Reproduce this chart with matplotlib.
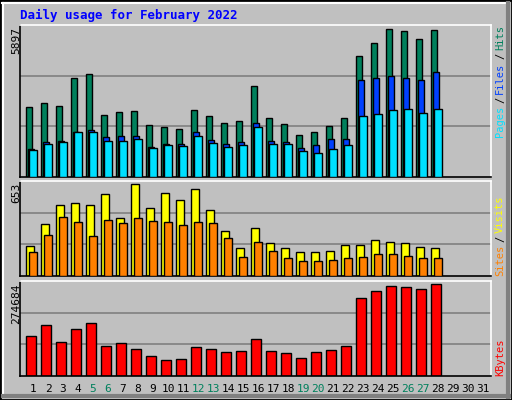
import matplotlib
matplotlib.use("Agg")
import matplotlib.pyplot as plt
from matplotlib.patches import Rectangle
import numpy as np

days = list(range(1, 32))
hits = [2775, 2935, 2815, 3935, 4095, 2455, 2575, 2615, 2054, 1974, 1894, 2655, 2415, 2134,
        2214, 3615, 2334, 2094, 1654, 1774, 2014, 2334, 4816, 5336, 5897, 5816, 5496, 5856]
files = [1094, 1374, 1414, 1774, 1854, 1574, 1614, 1614, 1174, 1294, 1294, 1774, 1454, 1294,
         1374, 2134, 1414, 1374, 1134, 1254, 1494, 1494, 3855, 3935, 4015, 3935, 3855, 4175]
pages = [1054, 1294, 1374, 1774, 1774, 1414, 1414, 1494, 1134, 1254, 1214, 1614, 1334, 1174,
         1254, 1974, 1294, 1294, 1014, 934, 1094, 1254, 2415, 2495, 2655, 2695, 2535, 2695]
visits = [213, 369, 504, 518, 504, 582, 412, 653, 483, 589, 539, 618, 468, 319,
          199, 341, 234, 199, 170, 170, 177, 220, 220, 256, 241, 234, 206, 199]
sites = [170, 291, 419, 383, 284, 397, 376, 412, 390, 383, 362, 383, 376, 270,
         135, 241, 177, 128, 106, 106, 114, 128, 135, 156, 156, 142, 128, 128]
kbytes = [118296, 151378, 100250, 139348, 157393, 88220, 97243, 79198, 58145, 46115, 49123,
          85213, 79198, 70175, 73183, 109273, 73183, 67168, 52130, 70175, 76190, 88220,
          232580, 253633, 268670, 265663, 259648, 274684]
weekends = [5, 6, 12, 13, 19, 20, 26, 27]
title = "Daily usage for February 2022"

W, H = 512, 400
fig = plt.figure(figsize=(5.12, 4.0), dpi=100)
fig.patch.set_facecolor("#C0C0C0")
mono = "DejaVu Sans Mono"

def fx(p): return p / W
def fy(p): return 1 - p / H

fig.add_artist(Rectangle((0, 0), 1, 1, transform=fig.transFigure, fill=False, ec="black", lw=2))
fig.add_artist(plt.Line2D([fx(2), fx(509)], [fy(3), fy(3)], color="white", lw=1.5, transform=fig.transFigure))
fig.add_artist(plt.Line2D([fx(3), fx(3)], [fy(3), fy(396)], color="white", lw=1.5, transform=fig.transFigure))
fig.add_artist(plt.Line2D([fx(508), fx(508)], [fy(3), fy(397)], color="#808080", lw=3, transform=fig.transFigure))
fig.add_artist(plt.Line2D([fx(3), fx(509)], [fy(396), fy(396)], color="#808080", lw=3, transform=fig.transFigure))

x0, x1 = 20, 491
xl = ((x0 - 33) / 15 + 1, (x1 - 33) / 15 + 1)

def mkax(top, bot, ymax):
    ax = fig.add_axes([fx(x0), fy(bot), fx(x1) - fx(x0), (bot - top) / H])
    ax.set_facecolor("#C0C0C0")
    ax.set_xlim(*xl)
    ax.set_ylim(0, ymax)
    ax.set_xticks([]); ax.set_yticks([])
    for s in ("left", "bottom"):
        ax.spines[s].set_color("black")
    for s in ("top", "right"):
        ax.spines[s].set_color("white")
    for s in ax.spines.values():
        s.set_linewidth(1.2)
    return ax

def grid(ax, vals):
    for v in vals:
        ax.axhline(v, color="#808080", lw=1.2, zorder=0)

n = len(hits)
d = np.arange(1, n + 1)

ax1 = mkax(25.3, 176.7, 6057)
grid(ax1, [6057 / 3, 2 * 6057 / 3])
ax1.bar(d - 0.27, hits, 0.42, color="#00805C", ec="black", lw=1, zorder=2)
ax1.bar(d - 0.13, files, 0.42, color="#0040FF", ec="black", lw=1, zorder=3)
ax1.bar(d + 0.0, pages, 0.47, color="#00E0FF", ec="black", lw=1, zorder=4)

ax2 = mkax(180.7, 276.3, 679)
grid(ax2, [679 / 3, 2 * 679 / 3])
ax2.bar(d - 0.22, visits, 0.53, color="#FFFF00", ec="black", lw=1, zorder=2)
ax2.bar(d + 0.0, sites, 0.49, color="#FF8000", ec="black", lw=1, zorder=3)

ax3 = mkax(281, 375.7, 284600)
grid(ax3, [284600 / 3, 2 * 284600 / 3])
ax3.bar(d - 0.11, kbytes, 0.67, color="#FF0000", ec="black", lw=1, zorder=2)

fig.text(fx(20), fy(15), title, color="#0000FF", family=mono, weight="bold", fontsize=9, va="center", ha="left")

for ypos, lab in [(27, "5897"), (183, "653"), (283, "274684")]:
    fig.text(fx(16), fy(ypos), lab, rotation=90, family=mono, fontsize=8, va="top", ha="center", color="black")

renderer = fig.canvas.get_renderer()

def stack(start_y, parts):
    y = start_y
    for txt, col in parts:
        t = fig.text(fx(500), fy(y), txt, rotation=90, family=mono, fontsize=7.5,
                     va="bottom", ha="center", color=col)
        h = t.get_window_extent(renderer).height
        y -= h + 3

stack(137, [("Pages", "#00E0FF"), ("/", "black"), ("Files", "#0040FF"), ("/", "black"), ("Hits", "#00805C")])
stack(276, [("Sites", "#FF8000"), ("/", "black"), ("Visits", "#FFFF00")])
stack(376, [("KBytes", "#FF0000")])

for day in days:
    col = "#00805C" if day in weekends else "black"
    fig.text(fx(33 + 15 * (day - 1)), fy(389), str(day), family=mono, fontsize=8, ha="center", va="center", color=col)

fig.savefig("out.png", dpi=100, facecolor=fig.get_facecolor())
